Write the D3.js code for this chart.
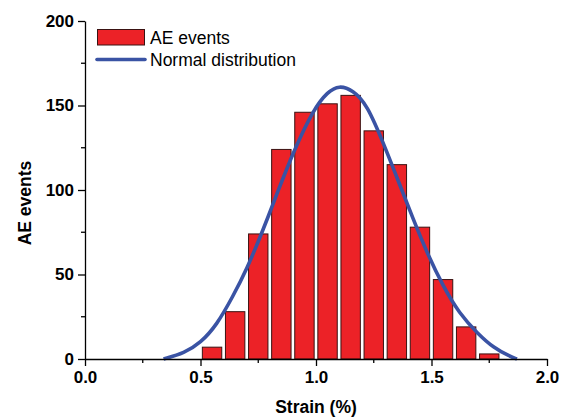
<!DOCTYPE html>
<html>
<head>
<meta charset="utf-8">
<script src="https://cdn.jsdelivr.net/npm/d3@7"></script>
<style>
  body { margin: 0; background: #fff; }
  text { font-family: "Liberation Sans", Arial, sans-serif; }
</style>
</head>
<body>
<div id="chart"></div>
<script>
// histogram bins (strain %) and counts
var binCenters = [0.55, 0.65, 0.75, 0.85, 0.95, 1.05, 1.15, 1.25, 1.35, 1.45, 1.55, 1.65, 1.75];
var aeEvents = [7, 28, 74, 124, 146, 151, 156, 135, 115, 78, 47, 19, 3];

// normal distribution curve
var curveX = [0.34, 0.43, 0.50, 0.57, 0.64, 0.70, 0.77, 0.84, 0.90, 0.99, 1.05, 1.10, 1.16, 1.22, 1.30, 1.36, 1.42, 1.48, 1.55, 1.62, 1.70, 1.77, 1.84, 1.87];
var curveY = [0, 3.5, 9.5, 20, 37, 53, 76, 101, 122, 148, 158, 162, 159, 151, 125, 104, 83, 63, 43, 27, 15, 6.5, 1.5, 0];

var xTicks = [0, 0.5, 1.0, 1.5, 2.0];
var yTicks = [0, 50, 100, 150, 200];

var svgWidth = 567, svgHeight = 418;
var margin = {top: 21, right: 20, bottom: 59, left: 85},
    width = 462,
    height = svgHeight - margin.top - margin.bottom;

var svg = d3.select("#chart").append("svg")
    .attr("width", svgWidth)
    .attr("height", svgHeight);

var g = svg.append("g")
    .attr("transform", `translate(${margin.left}, ${margin.top})`);

var x = d3.scaleLinear().domain([0, 2]).range([0, width]);
var y = d3.scaleLinear().domain([0, 200]).range([height, 0]);

var barHalf = 0.042;

// bars
g.selectAll("rect.bar")
    .data(binCenters)
    .enter().append("rect")
    .attr("class", "bar")
    .attr("x", d => x(d - barHalf))
    .attr("width", d => x(d + barHalf) - x(d - barHalf))
    .attr("y", (d, i) => y(aeEvents[i]))
    .attr("height", (d, i) => y(0) - y(aeEvents[i]))
    .attr("fill", "#ec2227")
    .attr("stroke", "#3a1212")
    .attr("stroke-width", 1);

// normal curve
var pts = curveX.map((d, i) => [d, curveY[i]]);
g.append("path")
    .datum(pts)
    .attr("fill", "none")
    .attr("stroke", "#3a53a4")
    .attr("stroke-width", 3.6)
    .attr("d", d3.line()
        .x(d => x(d[0]))
        .y(d => y(d[1]))
        .curve(d3.curveBasis));

// axes
var xAxis = g.append("g")
    .attr("transform", "translate(0," + height + ")")
    .call(d3.axisBottom(x).tickValues(xTicks).tickFormat(d3.format(".1f")).tickSize(7).tickSizeOuter(0));
xAxis.append("g").selectAll("line")
    .data(d3.range(0.25, 2, 0.5))
    .enter().append("line")
    .attr("x1", d => x(d)).attr("x2", d => x(d))
    .attr("y1", 0).attr("y2", 4)
    .attr("stroke", "#000");

var yAxis = g.append("g")
    .call(d3.axisLeft(y).tickValues(yTicks).tickSize(7).tickSizeOuter(0));
yAxis.append("g").selectAll("line")
    .data(d3.range(25, 200, 50))
    .enter().append("line")
    .attr("y1", d => y(d)).attr("y2", d => y(d))
    .attr("x1", 0).attr("x2", -4)
    .attr("stroke", "#000");

[xAxis, yAxis].forEach(function(a) {
  a.selectAll("path, line").attr("stroke", "#000").attr("stroke-width", 1.3);
  a.selectAll("text")
    .attr("fill", "#000")
    .style("font-size", "17px")
    .style("font-weight", "bold");
});
xAxis.selectAll(".tick text").attr("dy", "0.95em").attr("y", 8);
yAxis.selectAll(".tick text").attr("x", -11);

// axis titles
svg.append("text")
    .attr("x", margin.left + width / 2)
    .attr("y", 413)
    .attr("text-anchor", "middle")
    .style("font-size", "17.5px")
    .style("font-weight", "bold")
    .text("Strain (%)");

svg.append("text")
    .attr("transform", "translate(31," + (margin.top + height / 2 + 13) + ") rotate(-90)")
    .attr("text-anchor", "middle")
    .style("font-size", "17.5px")
    .style("font-weight", "bold")
    .text("AE events");

// legend
var legend = svg.append("g");
legend.append("rect")
    .attr("x", 97.5).attr("y", 29.5)
    .attr("width", 47).attr("height", 15.5)
    .attr("fill", "#ec2227")
    .attr("stroke", "#3a1212")
    .attr("stroke-width", 1);
legend.append("text")
    .attr("x", 150).attr("y", 44)
    .style("font-size", "17.5px")
    .text("AE events");
legend.append("line")
    .attr("x1", 97).attr("x2", 145)
    .attr("y1", 59.5).attr("y2", 59.5)
    .attr("stroke", "#3a53a4")
    .attr("stroke-width", 3.6)
    .attr("stroke-linecap", "round");
legend.append("text")
    .attr("x", 150).attr("y", 66)
    .style("font-size", "17.5px")
    .text("Normal distribution");
</script>
</body>
</html>
